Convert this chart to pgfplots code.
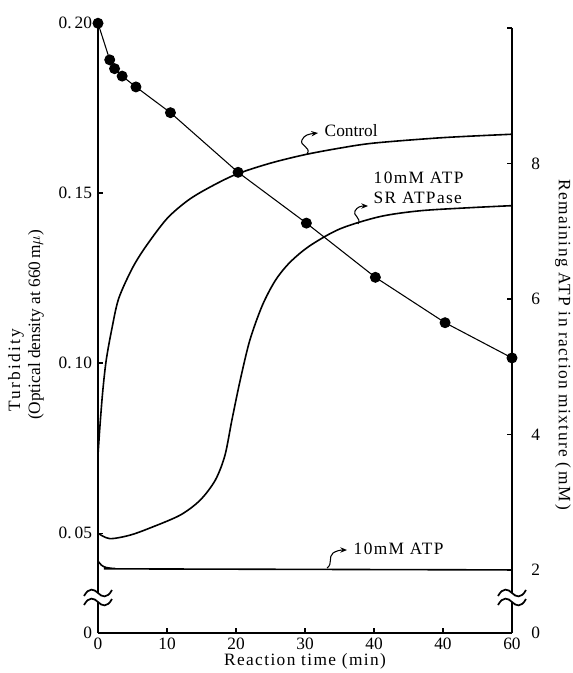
\documentclass[border=0pt]{standalone}
\usepackage{fontspec}
\setmainfont{Liberation Serif}
\newfontfamily\spaced[LetterSpace=8]{Liberation Serif}
\newfontfamily\spacedwide[LetterSpace=13]{Liberation Serif}
\usepackage{pgfplots}
\pgfplotsset{compat=1.18}
\usetikzlibrary{arrows.meta}
\newcommand{\lbl}{\fontsize{13}{15}\selectfont}

\pgfplotstableread{
t     od
0     0.0730
0.3   0.0820
0.7   0.0920
1.2   0.1010
2     0.1100
3     0.1190
5     0.1280
7     0.1345
10    0.1425
13    0.1478
16    0.1515
20    0.1555
25    0.1588
30    0.1613
35    0.1632
40    0.1647
50    0.1663
60    0.1673
}\control

\pgfplotstableread{
t     od
0     0.0500
1.7   0.0484
4.6   0.0494
7.5   0.0515
11.9  0.0553
14.8  0.0597
17.0  0.0656
18.4  0.0729
19.4  0.0832
20.6  0.0949
22.0  0.1067
23.8  0.1169
25.7  0.1243
27.8  0.1296
30.7  0.1345
35.1  0.1395
40.9  0.1431
46.7  0.1448
53.9  0.1457
60    0.1463
}\sratpase

\pgfplotstableread{
t     od
0     0.0418
0.5   0.0406
1.2   0.0399
2.5   0.0396
5     0.0395
60    0.0392
}\atponly

\pgfplotstableread{
t     atp
0     10.07
1.7   9.53
2.4   9.40
3.5   9.29
5.5   9.13
10.5  8.75
20.3  7.87
30.2  7.12
40.2  6.32
50.3  5.65
60    5.13
}\remaining

\begin{document}
\begin{tikzpicture}
\useasboundingbox (0pt,0pt) rectangle (429pt,-504.75pt);
\begin{axis}[
  at={(73.5pt,-474.75pt)}, anchor=south west,
  scale only axis, width=310.5pt, height=458.25pt,
  xmin=0, xmax=60, ymin=0.02065, ymax=0.2003,
  clip=false,
  axis x line=bottom, axis y line=left,
  axis line style={line width=1.5pt,-},
  every outer x axis line/.append style={-},
  every outer y axis line/.append style={-},
  tick align=inside, major tick length=4pt,
  tick style={line width=1pt, black},
  xtick={0,10,20,30,40,50,60},
  xticklabels={0,10,20,30,40,40,60},
  ytick={0.05,0.10,0.15,0.20},
  yticklabels={0.\,05,0.\,10,0.\,15,0.\,20},
  extra y ticks={0.02065}, extra y tick labels={0},
  extra y tick style={major tick length=0pt},
  tick label style={font=\lbl},
  yticklabel style={xshift=-1pt},
]
\addplot[black, line width=1.2pt, smooth] table[x=t,y=od] {\control};
\addplot[black, line width=1.2pt, smooth] table[x=t,y=od] {\sratpase};
\addplot[black, line width=1.2pt, smooth] table[x=t,y=od] {\atponly};
\end{axis}
\begin{axis}[
  at={(73.5pt,-474.75pt)}, anchor=south west,
  scale only axis, width=310.5pt, height=453.75pt,
  xmin=0, xmax=60, ymin=1.07, ymax=10,
  clip=false,
  axis x line=none, axis y line=right,
  axis line style={line width=1.5pt,-},
  every outer y axis line/.append style={-},
  tick align=inside, major tick length=4pt,
  tick style={line width=1pt, black},
  ytick={2,4,6,8,10},
  yticklabels={2,4,6,8,{}},
  extra y ticks={1.07}, extra y tick labels={0},
  extra y tick style={major tick length=0pt},
  tick label style={font=\lbl},
  yticklabel style={xshift=11pt},
]
\addplot[black, line width=0.8pt, mark=*, mark size=3.7pt, mark options={solid, fill=black}] table[x=t,y=atp] {\remaining};
\end{axis}
\begin{scope}[x=0.75pt,y=-0.75pt]
  % axis breaks
  \foreach \bx in {98,512}{
    \fill[white] (\bx-3,593) rectangle (\bx+3,602);
    \draw[line width=1.3pt] (\bx-14,596) .. controls (\bx-9,587) and (\bx-4,589) .. (\bx,593) .. controls (\bx+4,597) and (\bx+9,599) .. (\bx+14,590);
    \draw[line width=1.3pt] (\bx-14,605) .. controls (\bx-9,596) and (\bx-4,598) .. (\bx,602) .. controls (\bx+4,606) and (\bx+9,608) .. (\bx+14,599);
  }
  % axis titles
  \node[rotate=90, font=\lbl\spacedwide] at (16,370) {Turbidity};
  \node[rotate=90, font=\lbl] at (36,325) {(Optical density at 660\,m$\mu$)};
  \node[rotate=-90, font=\lbl\spaced] at (563,345) {Remaining ATP in raction mixture (\,mM\,)};
  \node[font=\lbl\spaced] at (305,661) {Reaction time (min)};
  % curve labels with leaders
  \draw[line width=0.8pt, -{Stealth[length=5pt,width=4pt]}] (307,154) .. controls (312,147) and (299,146) .. (302,140) .. controls (304,135) and (309,134) .. (318,133);
  \node[anchor=west, font=\lbl] at (320,131) {Control};
  \draw[line width=0.8pt, -{Stealth[length=5pt,width=4pt]}] (358,224) .. controls (362,218) and (352,215) .. (355,211) .. controls (357,207) and (361,206) .. (368,206);
  \node[anchor=west, font=\lbl\spaced] at (369,178) {10mM ATP};
  \node[anchor=west, font=\lbl\spaced] at (369,198) {SR ATPase};
  \draw[line width=0.8pt, -{Stealth[length=5pt,width=4pt]}] (327,568) .. controls (333,564) and (328,557) .. (333,553) .. controls (336,551) and (340,550) .. (347,550);
  \node[anchor=west, font=\lbl\spaced] at (349,549) {10mM ATP};
\end{scope}
\end{tikzpicture}
\end{document}
